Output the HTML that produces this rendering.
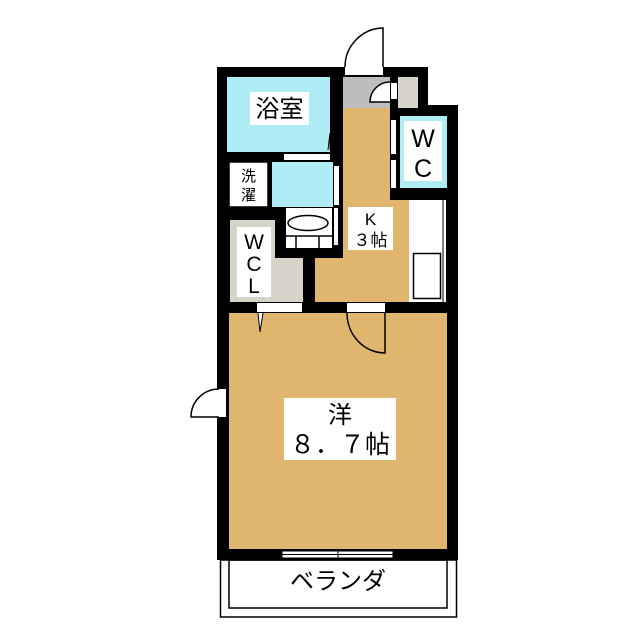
<!DOCTYPE html>
<html><head><meta charset="utf-8"><style>
html,body{margin:0;padding:0;background:#fff}
svg{display:block}
text{font-family:"Liberation Sans","Noto Sans CJK JP",sans-serif;fill:#000}
</style></head><body>
<svg width="640" height="640" viewBox="0 0 640 640" xmlns="http://www.w3.org/2000/svg">
<rect x="217" y="67" width="211" height="45" fill="#000"/>
<rect x="217" y="105" width="241" height="455" fill="#000"/>
<rect x="345" y="67" width="38" height="8" fill="#fff"/>
<path d="M383 67 L383 28 A39 39 0 0 0 345 67" fill="#fff" stroke="#000" stroke-width="1.5"/>
<!-- bath -->
<rect x="227" y="77" width="103" height="75" fill="#b0ecf6"/>
<rect x="250" y="92" width="59" height="33" fill="#fff"/>
<text x="279.5" y="117" font-size="24" text-anchor="middle">浴室</text>
<path d="M328 150 L330 133 L330 150" fill="#fff" stroke="#000" stroke-width="1"/>
<!-- entry -->
<rect x="343" y="77" width="47" height="31" fill="#bdbdbd"/>
<path d="M390 102 L370 102 A20 20 0 0 1 390 82" fill="#fff" stroke="#000" stroke-width="1.5"/>
<rect x="391" y="83" width="6" height="16" fill="#fff"/>
<rect x="398" y="77" width="20" height="31" fill="#d6d3c8"/>
<!-- WC -->
<rect x="400" y="116" width="47" height="72" fill="#b0ecf6"/>
<rect x="404" y="121" width="38" height="60" fill="#fff"/>
<text x="423" y="147" font-size="25" text-anchor="middle">W</text>
<text x="423" y="177" font-size="25" text-anchor="middle">C</text>
<rect x="391" y="120" width="5" height="34" fill="#fff"/>
<rect x="391" y="160" width="5" height="28" fill="#fff"/>
<!-- kitchen -->
<rect x="343" y="108" width="47" height="194" fill="#e0b56e"/>
<rect x="343" y="200" width="66" height="102" fill="#e0b56e"/>
<rect x="315" y="258" width="30" height="44" fill="#e0b56e"/>
<rect x="348" y="207" width="45" height="43" fill="#fff"/>
<text x="370.5" y="225" font-size="17" text-anchor="middle">K</text>
<text x="370.5" y="246" font-size="17" text-anchor="middle">３帖</text>
<!-- counter -->
<rect x="409" y="200" width="37" height="102" fill="#fff"/>
<line x1="443" y1="200" x2="443" y2="302" stroke="#000" stroke-width="1"/>
<rect x="413.5" y="253.5" width="27" height="45" fill="none" stroke="#000" stroke-width="1.5"/>
<!-- wash -->
<rect x="272" y="162" width="61" height="45" fill="#b0ecf6"/>
<rect x="284" y="154" width="46" height="6" fill="#fff"/>
<rect x="334" y="166" width="5" height="39" fill="#fff"/>
<rect x="334" y="208" width="4" height="37" fill="#fff"/>
<rect x="229" y="162" width="39" height="45" fill="#fff" stroke="#000" stroke-width="1.5"/>
<text x="248.5" y="181" font-size="15" text-anchor="middle">洗</text>
<text x="248.5" y="200" font-size="15" text-anchor="middle">濯</text>
<!-- sink -->
<rect x="286" y="208" width="46" height="40" fill="#fff"/>
<ellipse cx="308" cy="223" rx="20" ry="7.5" fill="#fff" stroke="#000" stroke-width="1.5"/>
<line x1="286" y1="236" x2="332" y2="236" stroke="#000" stroke-width="1.5"/>
<line x1="296" y1="236" x2="296" y2="248" stroke="#000" stroke-width="1.5"/>
<line x1="319" y1="236" x2="319" y2="248" stroke="#000" stroke-width="1.5"/>
<!-- WCL -->
<rect x="230" y="220" width="45" height="82" fill="#d6d3c8"/>
<rect x="230" y="258" width="73" height="44" fill="#d6d3c8"/>
<rect x="237" y="227" width="34" height="70" fill="#fff"/>
<text x="254" y="249" font-size="21" text-anchor="middle">W</text>
<text x="254" y="271" font-size="21" text-anchor="middle">C</text>
<text x="254" y="293" font-size="21" text-anchor="middle">L</text>
<!-- main room -->
<rect x="229" y="313" width="218" height="236" fill="#e0b56e"/>
<rect x="257" y="303" width="45" height="9" fill="#fff"/>
<path d="M258 313 L260 332 L263 313" fill="#fff" stroke="#000" stroke-width="1"/>
<rect x="347" y="303" width="38" height="9" fill="#fff"/>
<path d="M347 313 A38 40 0 0 0 385 353 L385 313" fill="none" stroke="#000" stroke-width="1.5"/>
<rect x="284" y="398" width="112" height="62" fill="#fff"/>
<text x="340" y="423" font-size="24" text-anchor="middle">洋</text>
<text x="340" y="453" font-size="25" text-anchor="middle" xml:space="preserve">８．７帖</text>
<!-- side door -->
<rect x="219" y="389" width="7" height="28" fill="#fff"/>
<path d="M219 389 A28 28 0 0 0 191 417 L219 417" fill="#fff" stroke="#000" stroke-width="1.5"/>
<!-- window -->
<rect x="282" y="551" width="111" height="7" fill="#fff" stroke="#000" stroke-width="1"/>
<line x1="282" y1="554.5" x2="393" y2="554.5" stroke="#000" stroke-width="1"/>
<line x1="338" y1="549" x2="338" y2="560" stroke="#000" stroke-width="1"/>
<!-- balcony -->
<rect x="220.5" y="560" width="236" height="57" fill="#fff" stroke="#000" stroke-width="1.5"/>
<rect x="229" y="560" width="218" height="48" fill="none" stroke="#000" stroke-width="1.5"/>
<text x="338" y="589" font-size="24" text-anchor="middle">ベランダ</text>
</svg>
</body></html>
